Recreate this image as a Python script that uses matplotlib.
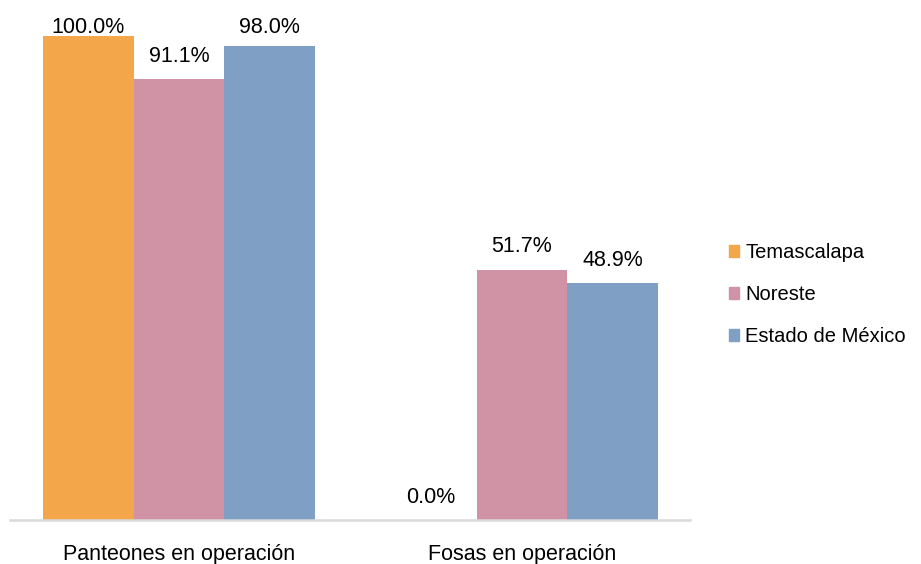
#!/usr/bin/env python
# Grouped bar chart: panteones y fosas en operacion

import numpy as np
import matplotlib.pyplot as plt
from matplotlib.patches import Patch

# Data
categories = ['Panteones en operación', 'Fosas en operación']
series_names = ['Temascalapa', 'Noreste', 'Estado de México']
temascalapa = [100.0, 0.0]
noreste = [91.1, 51.7]
estado = [98.0, 48.9]
colors = ['#F4A64A', '#D093A6', '#7F9FC4']

plt.rcParams['font.family'] = ['Liberation Sans', 'DejaVu Sans']

fig = plt.figure(figsize=(9.21, 5.64), dpi=100)
ax = fig.add_axes([10 / 921, 44 / 564, 680 / 921, 518 / 564])

x = np.arange(len(categories))
w = 0.265
for i, (vals, name, c) in enumerate(zip([temascalapa, noreste, estado], series_names, colors)):
    pos = x + (i - 1) * w
    ax.bar(pos, vals, width=w, color=c, label=name)
    for p, v in zip(pos, vals):
        # labels that would leave the plot area are pushed down, like Excel does
        ax.text(p, min(v + 3.6, 100.6), '%.1f%%' % v,
                ha='center', va='baseline', fontsize=15.5)

ax.set_xlim(-0.493, 1.49)
ax.set_ylim(0, 107)
for s in ['top', 'right', 'left']:
    ax.spines[s].set_visible(False)
ax.spines['bottom'].set_color('#d9d9d9')
ax.spines['bottom'].set_linewidth(1.8)
ax.set_yticks([])
ax.set_xticks(x)
ax.set_xticklabels(categories, fontsize=15.5)
ax.tick_params(axis='x', length=0, pad=17)

handles = [Patch(color=c, label=n) for c, n in zip(colors, series_names)]
fig.legend(handles=handles, loc='upper left', bbox_to_anchor=(715 / 921, 1 - 229 / 564),
           frameon=False, fontsize=14.5, handlelength=0.5, handleheight=0.55,
           handletextpad=0.3, labelspacing=1.15, borderpad=0.2)

plt.savefig('out.png')
